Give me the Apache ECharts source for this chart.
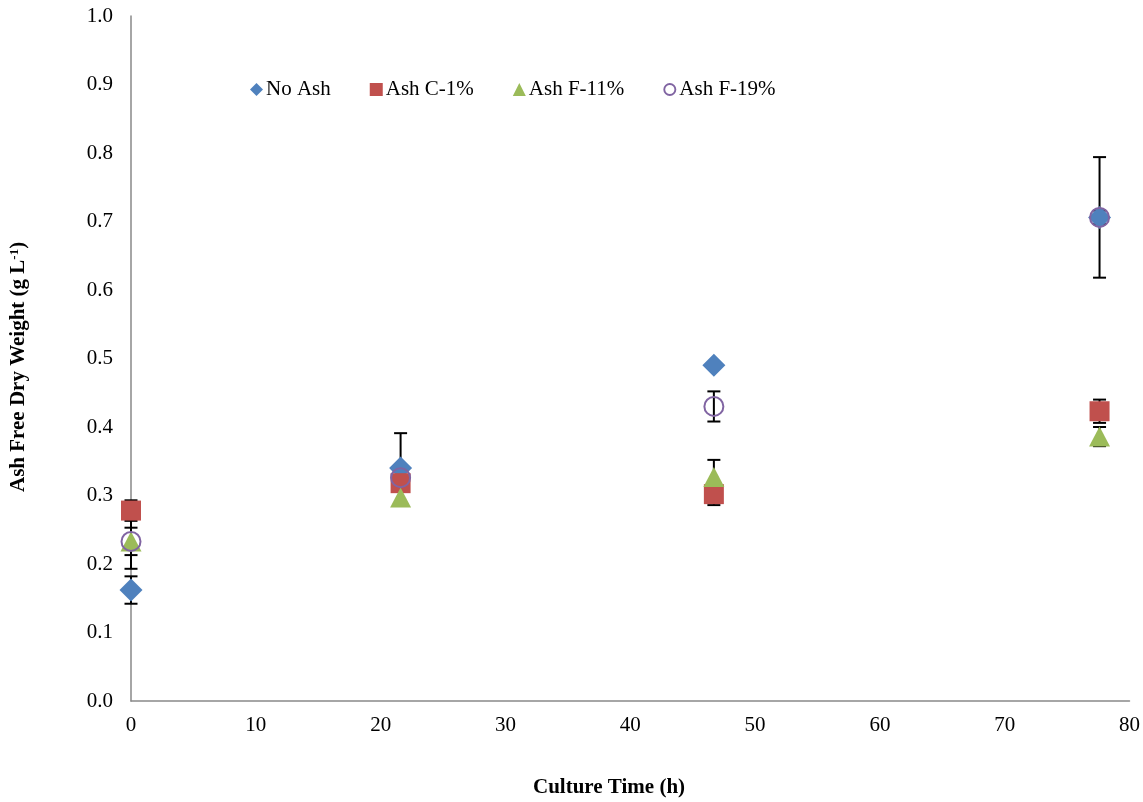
<!DOCTYPE html>
<html>
<head>
<meta charset="utf-8">
<script src="https://cdn.jsdelivr.net/npm/echarts@6/dist/echarts.min.js"></script>
<style>
  html, body { margin: 0; padding: 0; background: #fff; }
  #chart { width: 1143px; height: 802px; }
</style>
</head>
<body>
<div id="chart"></div>
<script>
// culture time (h) for each sampling point
const timeH = [0, 21.6, 46.7, 77.6]

// ash free dry weight (g/L) and error bars per series
const noAsh = [0.162, 0.340, 0.490, 0.706]
const noAshErr = [0.020, 0.051, 0.000, 0.088]
const ashC1 = [0.278, 0.318, 0.302, 0.423]
const ashC1Err = [0.015, 0.010, 0.016, 0.017]
const ashF11 = [0.233, 0.297, 0.327, 0.386]
const ashF11Err = [0.040, 0.010, 0.025, 0.014]
const ashF19 = [0.233, 0.326, 0.430, 0.706]
const ashF19Err = [0.020, 0.010, 0.022, 0.010]

const seriesNames = ['No Ash', 'Ash C-1%', 'Ash F-11%', 'Ash F-19%']
const yTicks = [0, 1, 0.1]
const xTicks = [0, 80, 10]

const serif = 'Liberation Serif, Times New Roman, serif'
// ring icon for the open circle legend entry
const ringIcon = 'path://M12,0A12,12,0,1,1,11.99,0ZM12,3.5A8.5,8.5,0,1,0,12.01,3.5Z'

function pairs(xs, ys) {
  return xs.map((x, i) => [x, ys[i]])
}

function errData(xs, ys, es) {
  return xs.map((x, i) => [x, ys[i] - es[i], ys[i] + es[i]])
}

// draws a vertical error bar with caps
function renderErr(params, api) {
  const lo = api.coord([api.value(0), api.value(1)])
  const hi = api.coord([api.value(0), api.value(2)])
  const half = 6.5
  const style = { stroke: '#000', lineWidth: 2 }
  return {
    type: 'group',
    children: [
      { type: 'line', shape: { x1: hi[0], y1: hi[1], x2: lo[0], y2: lo[1] }, style: style },
      { type: 'line', shape: { x1: hi[0] - half, y1: hi[1], x2: hi[0] + half, y2: hi[1] }, style: style },
      { type: 'line', shape: { x1: lo[0] - half, y1: lo[1], x2: lo[0] + half, y2: lo[1] }, style: style }
    ]
  }
}

const allErr = [].concat(
  errData(timeH, noAsh, noAshErr),
  errData(timeH, ashC1, ashC1Err),
  errData(timeH, ashF11, ashF11Err),
  errData(timeH, ashF19, ashF19Err)
).filter(d => d[2] - d[1] > 0.0001)

const chart = echarts.init(document.getElementById('chart'))

chart.setOption({
  animation: false,
  grid: { left: 131, right: 12, top: 16, bottom: 101 },
  legend: {
    left: 245,
    top: 74,
    itemGap: 39,
    itemWidth: 13,
    itemHeight: 13,
    textStyle: { fontFamily: serif, fontSize: 21, color: '#000', padding: [0, 0, 0, -2] },
    data: [
      { name: seriesNames[0], icon: 'diamond' },
      { name: seriesNames[1], icon: 'rect', itemStyle: { color: '#c0504d' } },
      { name: seriesNames[2], icon: 'triangle' },
      { name: seriesNames[3], icon: ringIcon, itemStyle: { color: '#8064a2', borderWidth: 0 } }
    ]
  },
  xAxis: {
    type: 'value',
    min: xTicks[0],
    max: xTicks[1],
    interval: xTicks[2],
    splitLine: { show: false },
    axisTick: { show: false },
    axisLine: { onZero: false, lineStyle: { color: '#898989', width: 1.5 } },
    axisLabel: { fontFamily: serif, fontSize: 21, color: '#000', margin: 14 }
  },
  yAxis: {
    type: 'value',
    min: yTicks[0],
    max: yTicks[1],
    interval: yTicks[2],
    splitLine: { show: false },
    axisTick: { show: false },
    axisLine: { show: true, lineStyle: { color: '#898989', width: 1.5 } },
    axisLabel: {
      fontFamily: serif, fontSize: 21, color: '#000', margin: 18,
      formatter: v => v.toFixed(1)
    }
  },
  graphic: [
    {
      type: 'text',
      left: 533,
      top: 777,
      style: {
        text: 'Culture Time (h)',
        font: 'bold 21px ' + serif,
        fill: '#000'
      }
    },
    {
      type: 'text',
      x: 8,
      y: 492,
      rotation: Math.PI / 2,
      style: {
        text: '{n|Ash Free Dry Weight (g L}{s|-1}{n|)}',
        rich: {
          n: { fontFamily: serif, fontWeight: 'bold', fontSize: 21, fill: '#000' },
          s: { fontFamily: serif, fontWeight: 'bold', fontSize: 13, fill: '#000', verticalAlign: 'top', padding: [0, 0, 8, 0] }
        }
      }
    }
  ],
  series: [
    {
      name: 'err',
      type: 'custom',
      renderItem: renderErr,
      data: allErr,
      encode: { x: 0, y: [1, 2] },
      z: 1,
      silent: true
    },
    {
      name: seriesNames[0],
      type: 'scatter',
      symbol: 'diamond',
      symbolSize: 23,
      itemStyle: { color: '#4f81bd', opacity: 1 },
      data: pairs(timeH, noAsh),
      z: 2
    },
    {
      name: seriesNames[1],
      type: 'scatter',
      symbol: 'rect',
      symbolSize: 20,
      itemStyle: { color: '#c0504d', opacity: 1 },
      data: pairs(timeH, ashC1),
      z: 3
    },
    {
      name: seriesNames[2],
      type: 'scatter',
      symbol: 'triangle',
      symbolSize: [21, 20],
      itemStyle: { color: '#9bbb59', opacity: 1 },
      data: pairs(timeH, ashF11),
      z: 4
    },
    {
      name: seriesNames[3],
      type: 'scatter',
      symbol: 'circle',
      symbolSize: 19,
      itemStyle: { color: 'transparent', borderColor: '#8064a2', borderWidth: 2, opacity: 1 },
      data: pairs(timeH, ashF19),
      z: 5
    }
  ]
})
</script>
</body>
</html>
